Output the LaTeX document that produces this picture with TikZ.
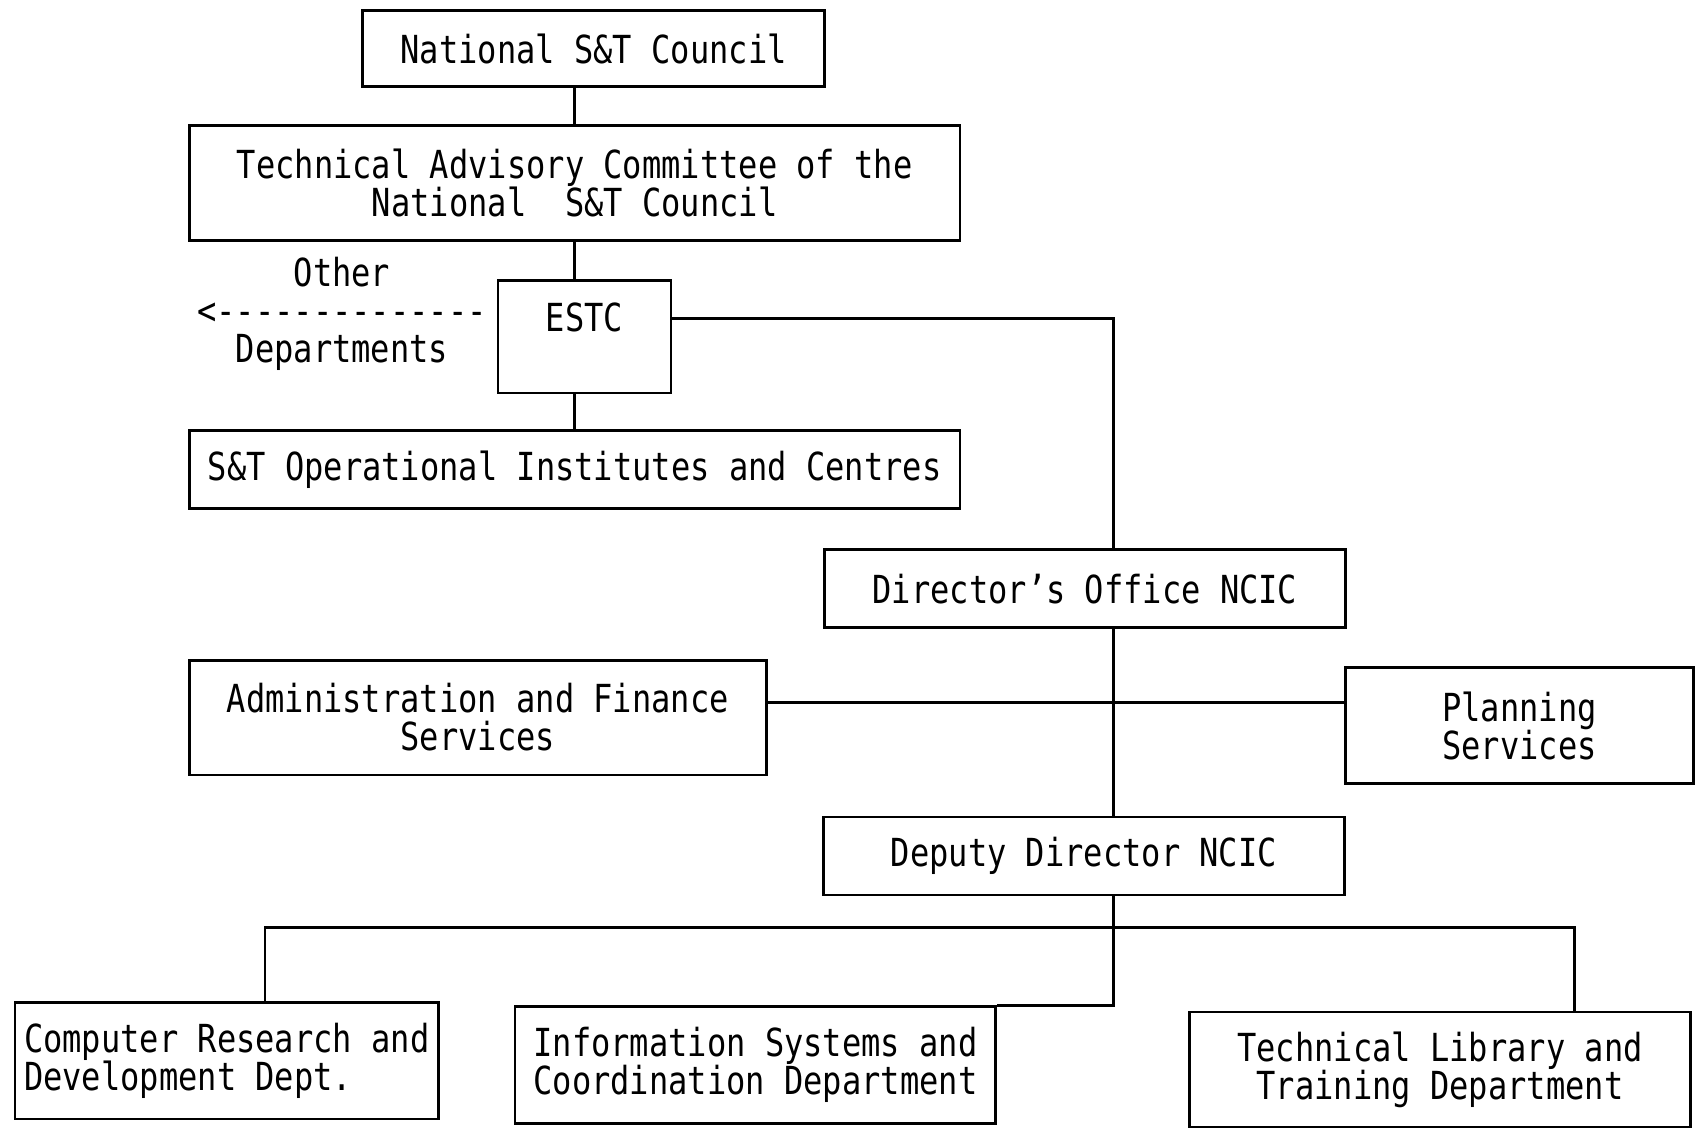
\documentclass[tikz,border=0pt]{standalone}
\usepackage{fontspec}
\newfontfamily\chartfont[FakeStretch=0.83]{DejaVu Sans Mono}
\begin{document}
\begin{tikzpicture}[x=0.01cm,y=-0.01cm,line width=0.7pt,
	every node/.style={inner sep=0pt,font=\chartfont\fontsize{10.15}{10}\selectfont},
	box/.style={draw,align=center,minimum width=#1*0.01cm},
	high/.style={minimum height=#1*0.01cm},
	tall/.style={high=106},
	flat/.style={high=72}]
				\useasboundingbox (0,0) rectangle (1568,1042);
				
				\node[box=427,high=70] (nsc) at (548.5,45) {National S\&T Council};
				\node[box=712,tall] (tac) at (531,169) {Technical Advisory Committee of the\\National~~S\&T Council};
				\node[box=160,high=104] (estc) at (540,311) {ESTC\\~};
				\node[box=712,flat] (opi) at (531,434) {S\&T Operational Institutes and Centres};
				\node[align=center] (other) at (316,290) {Other\\<{-}{-}{-}{-}{-}{-}{-}{-}{-}{-}{-}{-}{-}{-}\\Departments};
				
				\node[box=481,flat] (dir) at (1002.5,544) {Director’s Office NCIC};
				\node[box=533,tall] (adm) at (441.5,663) {Administration and Finance\\Services};
				\node[box=322,high=107] (pln) at (1404,670.5) {Planning\\Services};
				\node[box=481,flat] (dep) at (1001.5,791) {Deputy Director NCIC};
				
				\node[box=391,align=left,high=108] (crd) at (209.5,980) {Computer Research and\\Development Dept.};
				\node[box=444,align=left,high=108] (isc) at (698,984) {Information Systems and\\Coordination Department};
				\node[box=463,high=107] (tlt) at (1330.5,988.5) {Technical Library and\\Training Department};
				
				\coordinate (spine) at (1029,294);
				\coordinate (midrow) at (1029,649);
				\coordinate (busl) at (245,857);
				\coordinate (busr) at (1455,857);
				
				\draw (tac.north) -- (tac.north |- nsc.south);
				\draw (tac.south) -- (tac.south |- estc.north);
				\draw (opi.north) -- (opi.north |- estc.south);
				\draw (estc.east |- spine) -- (spine) -- (spine |- dir.north);
				\draw (spine |- dir.south) -- (spine |- dep.north);
				\draw (adm.east |- midrow) -- (pln.west |- midrow);
				\draw (spine |- dep.south) |- (isc.north east);
				\draw (busl |- crd.north) -- (busl) -- (busr) -- (busr |- tlt.north);
			\end{tikzpicture}
\end{document}
